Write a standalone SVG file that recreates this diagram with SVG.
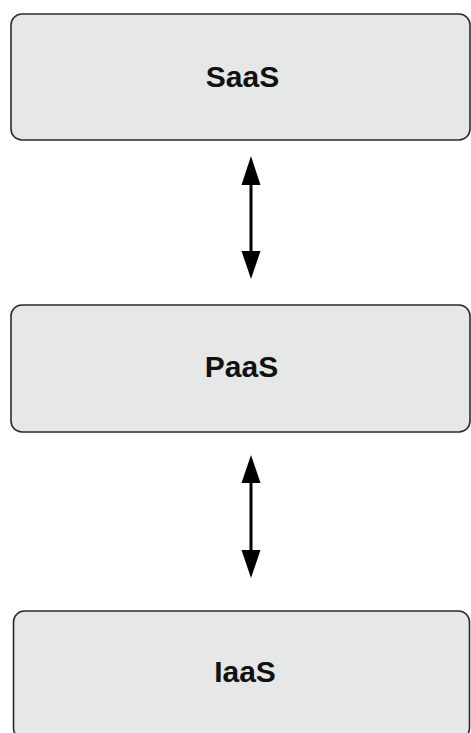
<svg xmlns="http://www.w3.org/2000/svg" width="471" height="733" viewBox="0 0 471 733">
<style>
.box{fill:#e6e7e7;stroke:#2b2b2b;stroke-width:1.6}
.lbl{font-family:"Liberation Sans",Arial,sans-serif;font-weight:bold;font-size:30px;fill:#111;text-anchor:middle}
.shaft{stroke:#000;stroke-width:3}
.head{fill:#000}
</style>
<rect width="471" height="733" fill="#fff"/>
<g id="saas">
<rect class="box" x="11" y="14" width="459" height="126" rx="11"/>
<text class="lbl" x="242.5" y="87">SaaS</text>
</g>
<g id="paas">
<rect class="box" x="11" y="305" width="459" height="127" rx="11"/>
<text class="lbl" x="241.5" y="377">PaaS</text>
</g>
<g id="iaas">
<rect class="box" x="13.5" y="611" width="456" height="128" rx="11"/>
<text class="lbl" x="245" y="682">IaaS</text>
</g>
<g id="connectors">
<line class="shaft" x1="251" y1="180" x2="251" y2="256"/>
<polygon class="head" points="251,156 241.5,185 260.5,185"/>
<polygon class="head" points="251,279 241.5,251 260.5,251"/>
<line class="shaft" x1="251" y1="478" x2="251" y2="555"/>
<polygon class="head" points="251,455 241.5,483 260.5,483"/>
<polygon class="head" points="251,578 241.5,550 260.5,550"/>
</g>
</svg>
